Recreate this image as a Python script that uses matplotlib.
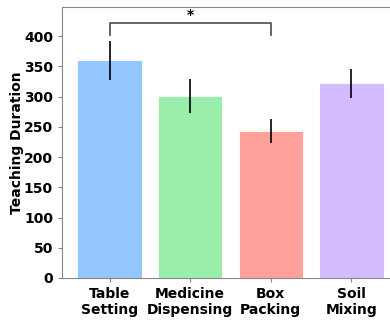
import matplotlib
matplotlib.use("Agg")
import matplotlib.pyplot as plt

tasks = ["Table\nSetting", "Medicine\nDispensing", "Box\nPacking", "Soil\nMixing"]
durations = [360, 301, 243, 322]
errors = [32, 28, 20, 24]
colors = ["#94c6ff", "#99eeaa", "#ffa19a", "#d3bcff"]

# significance bracket between Table Setting and Box Packing
sig_pair = (0, 2)
sig_y, sig_h = 401, 21
sig_label = "*"

plt.rcParams["font.family"] = "DejaVu Sans"
plt.rcParams["font.weight"] = "bold"

fig = plt.figure(figsize=(3.9, 3.21), dpi=100)
ax = fig.add_axes([0.159, 0.134, 0.864, 0.844])

x = list(range(len(tasks)))
ax.bar(x, durations, width=0.8, color=colors, edgecolor="white", linewidth=0.6,
       yerr=errors, error_kw=dict(ecolor="black", elinewidth=1.2, capsize=0))

x1, x2 = sig_pair
ax.plot([x1, x1, x2, x2], [sig_y, sig_y + sig_h, sig_y + sig_h, sig_y],
        color="#4a4a4a", linewidth=1.2)
ax.text((x1 + x2) / 2, sig_y + sig_h + 1, sig_label, ha="center", va="bottom",
        fontsize=10, fontweight="bold")

ax.set_xticks(x)
ax.set_xticklabels(tasks, fontsize=10, fontweight="bold")
ax.set_ylim(0, 448)
ax.set_xlim(-0.59, 3.59)
ax.set_yticks(range(0, 401, 50))
ax.tick_params(axis="y", labelsize=10)
for lab in ax.get_yticklabels():
    lab.set_fontweight("bold")
ax.set_ylabel("Teaching Duration", fontsize=10, fontweight="bold", labelpad=0)
for s in ax.spines.values():
    s.set_color("#888888")
ax.tick_params(colors="#888888", labelcolor="black", length=3)

fig.savefig("out.png", dpi=100)
